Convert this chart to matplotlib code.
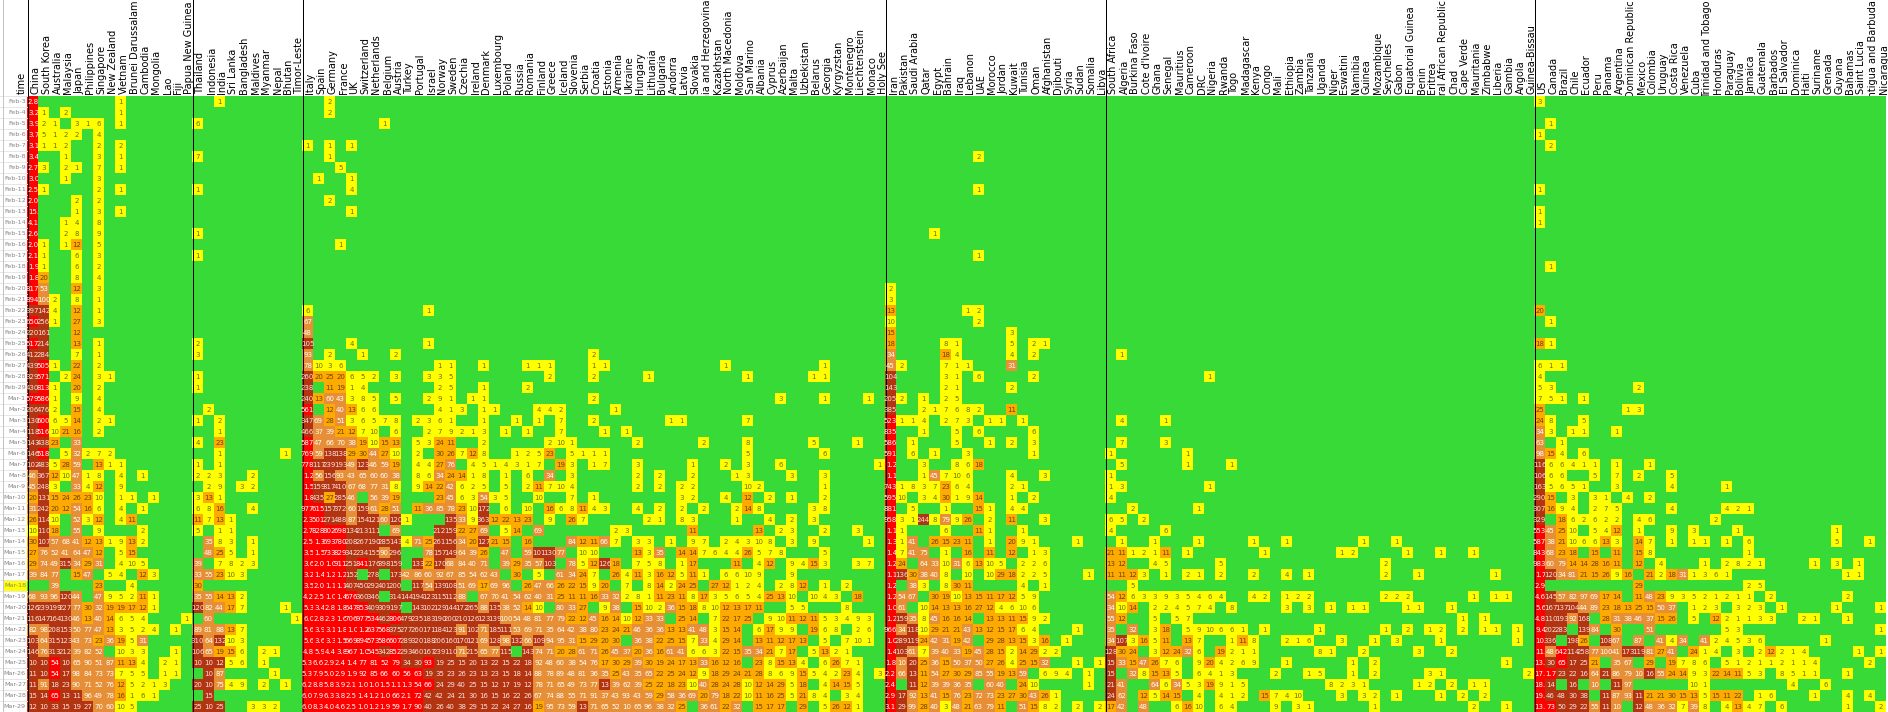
import matplotlib
matplotlib.use("Agg")
import matplotlib.pyplot as plt
from matplotlib.colors import ListedColormap
from matplotlib.patches import Rectangle
import numpy as np

dates = ["Feb-%d" % d for d in range(3, 30)] + ["Mar-%d" % d for d in range(1, 30)]

east_asia_names = ["China", "South Korea", "Australia", "Malaysia", "Japan", "Philippines", "Singapore",
                   "New Zealand", "Vietnam", "Brunei Darussalam", "Cambodia", "Mongolia", "Lao", "Fiji",
                   "Papua New Guinea"]
south_asia_names = ["Thailand", "Indonesia", "India", "Sri Lanka", "Bangladesh", "Maldives", "Myanmar", "Nepal",
                    "Bhutan", "Timor-Leste"]
europe_names = ["Italy", "Spain", "Germany", "France", "UK", "Switzerland", "Netherlands", "Belgium", "Austria",
                "Turkey", "Portugal", "Israel", "Norway", "Sweden", "Czechia", "Ireland", "Denmark", "Luxembourg",
                "Poland", "Russia", "Romania", "Finland", "Greece", "Iceland", "Slovenia", "Serbia", "Croatia",
                "Estonia", "Armenia", "Ukraine", "Hungary", "Lithuania", "Bulgaria", "Andorra", "Latvia", "Slovakia",
                "Bosnia and Herzegovina", "Kazakhstan", "North Macedonia", "Moldova", "San Marino", "Albania",
                "Cyprus", "Azerbaijan", "Malta", "Uzbekistan", "Belarus", "Georgia", "Kyrgyzstan", "Montenegro",
                "Liechtenstein", "Monaco", "Holy See"]
mideast_names = ["Iran", "Pakistan", "Saudi Arabia", "Qatar", "Egypt", "Bahrain", "Iraq", "Lebanon", "UAE", "Morocco",
                 "Jordan", "Kuwait", "Tunisia", "Oman", "Afghanistan", "Djibouti", "Syria", "Sudan", "Somalia",
                 "Libya"]
africa_names = ["South Africa", "Algeria", "Burkina Faso", "Cote d'Ivoire", "Ghana", "Senegal", "Mauritius",
                "Cameroon", "DRC", "Nigeria", "Rwanda", "Togo", "Madagascar", "Kenya", "Congo", "Mali", "Ethiopia",
                "Zambia", "Tanzania", "Uganda", "Niger", "Eswatini", "Namibia", "Guinea", "Mozambique", "Seychelles",
                "Gabon", "Equatorial Guinea", "Benin", "Eritrea", "Central African Republic", "Chad", "Cape Verde",
                "Mauritania", "Zimbabwe", "Liberia", "Gambia", "Angola", "Guinea-Bissau"]
americas_names = ["US", "Canada", "Brazil", "Chile", "Ecuador", "Peru", "Panama", "Argentina", "Dominican Republic",
                  "Mexico", "Colombia", "Uruguay", "Costa Rica", "Venezuela", "Cuba", "Trinidad and Tobago",
                  "Honduras", "Paraguay", "Bolivia", "Jamaica", "Guatemala", "Barbados", "El Salvador", "Dominica",
                  "Haiti", "Suriname", "Grenada", "Guyana", "Bahamas", "Saint Lucia", "Antigua and Barbuda",
                  "Nicaragua"]

# each row: "col:value value value" - a value without col goes in the next column
east_asia = {
    "Feb-3": "2800 8:1", "Feb-4": "3200 1 3:2 8:1", "Feb-5": "3900 2 1 4:3 1 6 8:1", "Feb-6": "3700 5 1 2 2 6:4",
    "Feb-7": "3100 1 1 2 6:2 8:2", "Feb-8": "3400 3:1 6:3 8:1", "Feb-9": "2700 3 3:2 1 6:7 8:1",
    "Feb-10": "3000 3:1 6:3", "Feb-11": "2500 1 6:2 8:1", "Feb-12": "2000 4:2 6:2", "Feb-13": "15200 4:1 6:3 8:1",
    "Feb-14": "4100 3:1 4 6:8", "Feb-15": "2600 3:2 8 6:9", "Feb-16": "2000 1 3:1 12 6:5", "Feb-17": "2100 1 4:6 6:3",
    "Feb-18": "1900 1 4:6 6:2", "Feb-19": "1800 20 4:8 6:4", "Feb-20": "817 53 4:12 6:3",
    "Feb-21": "894 100 2 4:8 6:1", "Feb-22": "397 142 4 4:12 6:1", "Feb-23": "650 256 1 4:27 6:3",
    "Feb-24": "220 161 4:12", "Feb-25": "517 214 4:13 6:1", "Feb-26": "412 284 4:7 6:1",
    "Feb-27": "439 505 1 4:22 6:2", "Feb-28": "329 571 3:2 24 6:3 1", "Feb-29": "430 813 1 4:20 6:2",
    "Mar-1": "579 586 1 4:9 6:4", "Mar-2": "206 476 2 4:15 6:4", "Mar-3": "130 600 6 5 14 6:2 1",
    "Mar-4": "118 516 10 21 16 6:2", "Mar-5": "143 438 23 4:33", "Mar-6": "146 518 3:5 32 2 7 2",
    "Mar-7": "102 483 5 28 59 6:13 1 1", "Mar-8": "46 367 12 10 47 1 8 8:4 10:1", "Mar-9": "45 248 3 4:33 4 12 8:9",
    "Mar-10": "20 131 15 24 26 23 10 8:1 1 11:1", "Mar-11": "31 242 20 12 54 16 6 8:4 10:1",
    "Mar-12": "26 114 10 4:52 3 12 8:4 11", "Mar-13": "10 110 18 4:55 6:9 10:2",
    "Mar-14": "30 107 57 68 41 12 13 1 9 13 2", "Mar-15": "27 76 52 41 64 47 12 8:5 15",
    "Mar-16": "29 74 49 315 34 29 31 8:4 10 5", "Mar-17": "39 84 77 4:15 47 7:5 4 10:12 3",
    "Mar-18": "2:39 6:23 9:4", "Mar-19": "68 93 96 120 44 6:47 9 5 2 11 1",
    "Mar-20": "126 239 199 227 77 30 32 19 19 17 12 1", "Mar-21": "116 147 164 130 46 13 40 14 6 5 4 14:1",
    "Mar-22": "82 98 208 153 50 77 47 13 3 5 2 4 13:1", "Mar-23": "103 64 315 123 43 73 23 36 19 5 31",
    "Mar-24": "146 76 313 212 39 82 52 8:10 3 3 13:1", "Mar-25": "101 102 540 104 65 90 51 87 11 13 4 12:2 1",
    "Mar-26": "110 103 545 170 98 84 73 73 7 5 5 12:1 1", "Mar-27": "115 91 180 230 90 71 52 76 12 5 2 1 3",
    "Mar-28": "150 140 650 130 110 96 49 78 16 1 6 1", "Mar-29": "120 105 330 150 190 270 70 60 10 5",
}
south_asia = {
    "Feb-3": "2:1", "Feb-5": "6", "Feb-8": "7", "Feb-11": "1", "Feb-15": "1", "Feb-17": "1", "Feb-25": "2",
    "Feb-26": "3", "Feb-28": "1", "Feb-29": "1", "Mar-2": "1:2", "Mar-3": "1 2:2", "Mar-4": "2:1", "Mar-5": "4 2:23",
    "Mar-6": "2:1 8:1", "Mar-7": "1 2:1", "Mar-8": "2 2 3 5:2", "Mar-9": "1:2 9 4:3 2", "Mar-10": "3 13 1",
    "Mar-11": "6 8 16 5:4", "Mar-12": "11 7 13 1", "Mar-13": "5 2:1 1", "Mar-14": "1:35 8 3 5:1",
    "Mar-15": "1:48 25 5 5:1", "Mar-16": "39 2:7 8 2 3", "Mar-17": "33 55 23 10 3", "Mar-18": "30",
    "Mar-19": "35 55 14 13 2", "Mar-20": "120 82 44 17 7 8:1", "Mar-21": "1:60 9:1", "Mar-22": "89 81 88 13 7",
    "Mar-23": "310 64 132 10 3", "Mar-24": "106 65 19 15 6 6:2 1", "Mar-25": "101 102 120 5 6 6:1",
    "Mar-26": "1:104 87 7:1", "Mar-27": "200 105 75 4 9 6:2 8:1", "Mar-28": "1:150",
    "Mar-29": "250 103 250 5:3 3 2",
}
europe = {
    "Feb-3": "2:2", "Feb-4": "2:2", "Feb-5": "7:1", "Feb-7": "1 2:1 4:1", "Feb-8": "2:1", "Feb-9": "3:5",
    "Feb-10": "1:1 4:1", "Feb-11": "4:4", "Feb-12": "2:2", "Feb-13": "4:1", "Feb-16": "3:1", "Feb-22": "6 11:1",
    "Feb-23": "67", "Feb-24": "48", "Feb-25": "105 4:4 11:1", "Feb-26": "93 2:2 5:1 8:2 26:2",
    "Feb-27": "78 10 3 6 12:1 1 16:1 20:1 1 1 26:1 1 38:1 47:1",
    "Feb-28": "260 20 25 20 6 5 2 8:3 11:3 3 5 22:2 26:2 31:1 40:1 46:1 1",
    "Feb-29": "238 2:11 19 1 4 12:2 5 16:1 20:2",
    "Mar-1": "240 13 60 43 3 8 5 8:5 11:2 9 1 15:1 1 26:2 43:3 47:1 51:1",
    "Mar-2": "561 2:12 40 13 6 6 12:4 1 3 16:1 1 21:4 4 2 28:1",
    "Mar-3": "347 69 28 51 3 6 5 7 8 10:2 3 6 1 16:1 19:1 21:1 23:7 26:2 33:1 1 40:7",
    "Mar-4": "466 37 39 21 12 7 10 8:6 11:2 7 9 2 1 3 18:1 20:1 23:7 27:1 29:1",
    "Mar-5": "587 47 66 70 38 19 10 15 13 10:5 3 24 11 16:2 22:2 10 1 30:2 36:2 40:8 46:5 50:1",
    "Mar-6": "769 59 138 138 29 30 44 27 10 10:2 12:30 26 7 12 8 19:1 2 5 23 24:5 1 1 1 40:5 47:6",
    "Mar-7": "778 117 239 193 49 123 46 59 19 10:4 4 27 76 15:4 5 1 4 3 1 7 23:19 3 26:1 7 30:3 35:1 38:2 40:3 43:6 52:1",
    "Mar-8": "1200 56 156 93 43 65 60 60 38 10:8 6 34 24 14 1 8 18:1 20:6 22:34 24:3 30:2 32:2 35:2 39:1 3 44:3 47:3",
    "Mar-9": "1500 159 317 410 67 68 77 31 8 10:9 14 22 42 6 2 5 18:5 20:2 11 7 10 4 30:2 32:2 34:2 2 40:10 2 47:1",
    "Mar-10": "1800 435 27 285 46 6:56 39 19 12:23 45 6 3 54 3 5 21:10 24:7 26:1 34:3 2 38:4 40:12 42:2 44:1 47:2",
    "Mar-11": "977 615 157 372 60 159 61 28 51 10:11 36 85 78 23 10 172 18:6 20:10 22:16 6 8 11 4 3 30:4 32:2 34:2 36:2 39:2 14 8 46:3 8",
    "Mar-12": "2300 501 271 488 87 154 121 60 120 1 13:135 33 9 363 12 22 13 23 22:9 24:26 7 31:2 1 34:8 3 39:1 42:4 44:2 46:3",
    "Mar-13": "2700 828 802 698 134 213 111 8:69 12:212 159 22 27 69 18:5 14 21:69 28:2 3 35:11 41:13 43:2 3 47:2 50:3",
    "Mar-14": "2500 1300 693 780 208 267 190 285 143 4 71 25 261 156 34 20 127 21 15 20:16 24:84 12 11 66 7 30:3 3 33:1 35:9 7 38:2 4 3 10 8 44:3 46:9 51:1",
    "Mar-15": "3500 1500 733 829 342 234 155 90 296 11:78 157 149 64 39 26 18:47 20:59 101 130 77 25:10 10 30:13 3 35 34:14 14 7 6 4 4 26 5 7 8 47:5",
    "Mar-16": "3600 2000 1000 911 251 841 176 398 159 10:133 22 170 68 84 40 71 18:39 29 35 57 103 24:78 5 12 126 18 30:7 5 8 34:1 17 39:11 41:4 12 44:9 4 15 3 50:3 7",
    "Mar-17": "3200 1400 1200 1200 152 6:278 8:173 42 86 60 92 67 85 54 62 43 19:30 21:5 23:61 34 24 7 28:26 4 11 3 16 12 5 11 1 38:6 6 10 9 44:9",
    "Mar-18": "3500 2000 1100 1100 407 450 292 401 200 10:117 54 139 108 51 69 17 69 96 20:26 47 66 26 22 15 9 20 29:7 31:8 14 2 24 25 37:27 12 1 2 4 43:2 8 12 47:1 49:2",
    "Mar-19": "4200 2500 1000 1400 676 360 346 8:314 144 194 123 115 112 88 16:67 70 41 54 62 40 31 25 11 11 16 33 32 2 8 1 11 23 11 8 17 3 5 6 5 4 25 13 10 46:10 4 3 50:18",
    "Mar-20": "5300 3400 2800 1800 647 853 409 309 197 10:143 102 129 144 172 265 88 135 38 52 14 10 23:80 33 27 27:9 38 30:15 10 2 36 15 18 8 10 12 13 17 11 44:5 5 49:8",
    "Mar-21": "6000 2800 2300 1600 706 977 534 462 806 479 235 183 190 200 210 126 123 139 100 54 48 81 77 79 22 12 45 16 14 10 12 33 33 34:25 14 37:7 22 17 25 42:9 10 11 12 11 5 3 4 9 3",
    "Mar-22": "5600 3900 3100 1800 1000 1200 637 568 375 277 260 171 184 123 91 102 71 185 111 53 69 71 35 64 42 38 80 23 24 21 46 36 36 13 13 41 48 3 15 14 41:6 17 9 9 46:19 6 8 50:2 6",
    "Mar-23": "5600 3600 3300 1500 669 894 573 586 607 289 320 188 206 160 170 121 69 128 98 132 66 109 94 95 31 15 29 20 30 30:36 38 22 25 15 7 33 4 29 14 41:13 11 12 17 13 47:5 49:7 10 1",
    "Mar-24": "4800 5900 4400 3800 967 1000 545 342 852 293 460 167 239 110 71 215 65 77 115 20:143 74 71 20 28 61 71 26 45 37 20 36 16 61 41 6 6 3 22 15 35 34 21 7 17 46:5 13 2 1",
    "Mar-25": "5300 6600 2900 2400 1400 770 810 520 790 340 300 930 190 250 150 200 130 220 150 220 180 92 48 60 38 54 76 17 30 29 39 30 19 24 17 13 33 16 12 16 41:23 8 15 13 4 47:6 26 7 1",
    "Mar-26": "5300 7900 5000 2900 1900 920 850 660 600 560 630 190 350 230 260 230 130 230 150 180 140 88 78 89 48 81 36 35 25 43 35 65 22 25 24 12 9 18 29 24 21 28 8 6 9 15 5 4 2 23 4 52:3",
    "Mar-27": "6200 8800 5800 3900 2100 1000 1000 1500 1100 1300 540 660 240 290 400 250 150 120 170 190 120 78 71 65 49 73 77 130 39 62 39 25 22 18 23 10 40 28 24 28 10 12 14 29 5 18 47:4 14 15 5",
    "Mar-28": "6000 7900 6300 3800 2500 1400 1200 1000 660 2100 720 420 420 240 210 300 160 150 160 220 260 67 74 88 55 71 91 37 43 93 43 59 29 58 36 69 20 79 18 22 10 11 16 25 5 21 8 4 49:3 4",
    "Mar-29": "6000 8300 4000 4600 2500 1000 1200 1900 590 1700 900 400 260 400 380 290 150 220 240 270 160 19 95 73 59 130 71 65 52 100 65 96 38 32 25 36:36 61 22 32 41:15 17 17 45:29 47:5 26 12 1",
}
mideast = {
    "Feb-8": "8:2", "Feb-11": "8:1", "Feb-15": "4:1", "Feb-17": "8:1", "Feb-20": "2", "Feb-21": "3",
    "Feb-22": "13 7:1 2", "Feb-23": "10 8:2", "Feb-24": "15 11:3", "Feb-25": "18 5:8 1 11:5 13:2 1",
    "Feb-26": "34 5:18 4 11:4 13:2", "Feb-27": "45 2 5:7 1 1 11:31", "Feb-28": "104 5:3 1 8:6 13:2",
    "Feb-29": "143 5:2 1 11:2", "Mar-1": "205 2 3:1 5:2 5", "Mar-2": "385 3:2 1 7 6 8 2 11:11",
    "Mar-3": "523 1 1 4 5:2 7 3 9:1 1 12:1", "Mar-4": "835 3:1 6:5 8:6 13:6", "Mar-5": "586 2:1 6:5 9:1 11:2 13:3",
    "Mar-6": "591 2:6 4:1 7:3 13:1", "Mar-7": "1200 3:3 6:8 6 18", "Mar-8": "1100 3:1 45 7 10 6 11:4 14:3",
    "Mar-9": "743 1 8 3 7 23 6 4 11:2 1", "Mar-10": "595 10 3:3 4 30 1 9 14 11:1 13:2", "Mar-11": "881 2:5 5:1 8:15 1 11:4 4",
    "Mar-12": "958 3 1 244 8 79 9 26 9:2 11:11 14:3", "Mar-13": "1100 1 5:6 8:11 1 12:1",
    "Mar-14": "1300 1 41 4:26 15 23 11 9:1 11:20 9 1 17:1", "Mar-15": "1400 7 41 75 5:1 7:16 9:11 11:12 13:1 3",
    "Mar-16": "1200 24 3:64 33 10 31 6 13 10 5 12:2 2 6", "Mar-17": "1100 136 30 38 40 8 7:10 9:10 29 18 2 2 5 18:1",
    "Mar-18": "1200 2:38 3 5:8 30 11 12:4 14:1", "Mar-19": "1200 54 67 4:30 19 10 13 15 11 17 12 5 9",
    "Mar-20": "1000 61 3:10 14 13 13 16 27 12 4 6 10 6", "Mar-21": "1200 159 35 8 45 16 16 14 9:13 13 11 15 9 2",
    "Mar-22": "966 34 118 10 29 21 21 43 13 12 15 17 6 4 17:1", "Mar-23": "1000 289 119 24 42 31 19 42 9:29 28 13 15 3 16 16:1",
    "Mar-24": "1400 103 61 7 39 40 33 19 45 28 15 2 14 29 2 2", "Mar-25": "1800 100 200 25 36 15 50 37 50 27 26 4 25 15 32 17:1 19:1",
    "Mar-26": "2200 66 130 11 54 27 30 29 85 55 19 13 59 14:6 9 4 18:1", "Mar-27": "2400 2:110 12 39 39 36 35 9:60 40 12:24 10 18:1",
    "Mar-28": "2900 170 92 13 41 15 76 23 72 73 23 27 30 43 26 1", "Mar-29": "3100 290 99 28 40 3 48 21 63 79 11 12:51 15 8 2 17:2 19:2",
}
africa = {
    "Feb-26": "1:1", "Feb-28": "9:1", "Mar-3": "1:4 5:1", "Mar-5": "1:7 5:3", "Mar-6": "1 7:1", "Mar-7": "1:5 7:1 11:1",
    "Mar-8": "1", "Mar-9": "1 3 9:1", "Mar-10": "4", "Mar-11": "2:2 8:1", "Mar-12": "6 5 3:2", "Mar-13": "4 5:6",
    "Mar-14": "1:1 4:1 8:1 13:1 16:1 23:1 26:1", "Mar-15": "21 11 1 2 1 11 7:1 14:1 21:1 2 27:1 30:1 33:1",
    "Mar-16": "13 12 4:4 5 10:5 25:2", "Mar-17": "11 11 12 3 5:1 7:2 1 10:2 13:2 16:4 18:1 25:2 28:1 35:1",
    "Mar-18": "2:5", "Mar-19": "54 12 6 3 3 9 3 5 4 6 4 13:4 2 16:1 2 2 25:2 2 2 33:1 35:1 1",
    "Mar-20": "34 10 14 4:2 2 4 5 7 4 11:8 16:3 18:3 20:1 22:1 1 27:1 1 31:1", "Mar-21": "55 12 4:5 6:5 7 32:1 34:1",
    "Mar-22": "35 2:32 4:3 18 7:5 9 10 6 6 1 14:1 19:1 25:1 27:2 29:1 2 32:2 34:1 1 37:1",
    "Mar-23": "34 107 3 16 5 11 7:13 7 11:1 11 8 16:2 1 6 21:3 24:1 26:3 30:1 37:1",
    "Mar-24": "128 30 24 4:3 12 24 32 6 10:19 2 1 1 19:8 1 23:2 28:3 31:2",
    "Mar-25": "150 33 15 47 26 7 6 8:9 20 4 2 6 9 16:1 22:1 24:2 36:1",
    "Mar-26": "152 2:32 8 15 13 5 8:6 4 1 3 15:2 18:1 5 22:1 24:2 29:3 1 38:2",
    "Mar-27": "210 41 4:64 6 34 5 3 19 9 1 5 20:8 2 3 1 28:1 2 31:2 33:1 1",
    "Mar-28": "240 62 3:12 5 14 15 8:4 10:4 1 2 14:15 7 4 10 21:3 23:3 2 26:1 30:1 32:2 34:2",
    "Mar-29": "17 42 3:48 6:6 16 10 10:6 4 15:9 17:3 1 24:1 33:2 36:1",
}
americas = {
    "Feb-3": "3", "Feb-5": "1:1", "Feb-6": "1", "Feb-7": "1:2", "Feb-11": "1", "Feb-13": "1", "Feb-14": "1",
    "Feb-18": "1:1", "Feb-22": "20", "Feb-23": "1:1", "Feb-25": "18 1", "Feb-27": "6 1 1", "Feb-28": "4",
    "Feb-29": "5 3 9:2", "Mar-1": "7 5 1 4:1", "Mar-2": "25 8:1 3", "Mar-3": "24 8 4:5", "Mar-4": "34 3 3:1 1 7:1",
    "Mar-5": "63 2:1", "Mar-6": "98 15 4 4:6", "Mar-7": "116 6 6 4 1 1 7:1 10:1", "Mar-8": "106 6 6 5:5 7:7 9:2 12:5",
    "Mar-9": "163 5 6 5 1 7:3 12:4 17:1", "Mar-10": "290 15 3:3 5:3 1 8:4 10:2",
    "Mar-11": "307 16 9 4 5:2 7 5 12:4 17:4 2 1", "Mar-12": "329 2:18 6 2 6 2 2 9:4 6 16:2",
    "Mar-13": "553 45 25 10 5:5 4 12 9:1 12:9 14:3 18:1 27:1",
    "Mar-14": "587 38 21 10 6 6 13 3 9:14 7 12:1 14:1 1 17:1 19:6 27:5 30:1",
    "Mar-15": "843 68 23 18 5:15 7:11 9:15 8 19:1",
    "Mar-16": "983 60 79 14 14 28 16 11 9:12 11:4 15:1 17:2 8 2 1 25:1 27:3 29:1",
    "Mar-17": "1700 120 34 81 21 15 26 9 16 10:21 2 18 31 1 3 6 1 28:1 1", "Mar-18": "2900 9:29 19:2 5",
    "Mar-19": "4600 145 57 82 97 69 17 14 9:11 48 23 9 3 5 2 1 2 1 1 21:2 28:2",
    "Mar-20": "5600 167 137 104 44 89 23 18 13 25 15 50 37 14:1 2 3 18:3 2 3 22:1 27:1 31:1",
    "Mar-21": "4800 110 193 92 168 6:28 31 38 46 37 15 26 14:5 16:12 2 1 1 3 3 24:2 1 28:1",
    "Mar-22": "9400 202 283 4:139 84 7:30 10:51 17:5 3 31:1", "Mar-23": "10200 336 3:198 26 6:108 67 9:87 11:41 4 34 15:41 2 4 5 3 6 26:1",
    "Mar-24": "11100 48 642 114 258 77 100 41 173 119 81 27 41 14:24 1 4 18:3 20:2 12 2 1 4 29:1 31:1",
    "Mar-25": "13000 300 650 170 250 21 7:35 67 10:29 12:19 7 8 6 17:5 1 2 1 1 2 1 1 4 30:2",
    "Mar-26": "17000 1700 230 220 160 64 210 86 79 100 160 55 24 14 9 3 22 14 11 5 3 22:8 5 1 1 28:1",
    "Mar-27": "18000 140 3:160 5:100 7:110 97 14:10 1 23:4 26:6",
    "Mar-28": "19000 460 480 300 380 6:110 87 93 110 21 21 30 15 13 5 15 11 22 20:1 6 25:1 28:4 30:4",
    "Mar-29": "13000 730 500 290 220 55 110 100 9:120 48 36 32 7 39 8 17:4 13 4 7 22:6 28:1 31:2",
}

groups = [(east_asia_names, east_asia), (south_asia_names, south_asia), (europe_names, europe),
          (mideast_names, mideast), (africa_names, africa), (americas_names, americas)]

LEFT = 27
TOP = 96
CELL = 11

names = []
values = []
group_starts = []
for group_names, rows in groups:
    group_starts.append(len(names))
    names += group_names
    block = np.zeros((len(dates), len(group_names)))
    for date, line in rows.items():
        col = 0
        for tok in line.split():
            if ":" in tok:
                col, tok = tok.split(":")
                col = int(col)
            block[dates.index(date), col] = float(tok)
            col += 1
    values.append(block)
values = np.hstack(values)


def cell_text(v, row):
    s = "%.1fK" % (v / 1000) if v >= 1000 else "%d" % v
    # from Mar-25 on the cells only show the start of the number
    if row >= dates.index("Mar-25"):
        s = s[:3] if "K" in s else s[:2]
    return s


fig = plt.figure(figsize=(18.88, 7.12), dpi=100)
ax = fig.add_axes([0, 0, 1, 1])
ax.set_xlim(0, 1888)
ax.set_ylim(712, 0)
ax.axis("off")

colors = ["#38DA38", "#FFFF00", "#FFAA00", "#E68F37", "#B23410", "#FF0000"]
text_colors = ["none", "#6e6e00", "#6b4400", "#ffffff", "#f7e2e2", "#ffffff"]
cats = np.digitize(values, [0.5, 10.5, 30.5, 100.5, 500.5])

x_edges = LEFT + CELL * np.arange(len(names) + 1)
y_edges = TOP + CELL * np.arange(len(dates) + 1)
ax.pcolormesh(x_edges, y_edges, cats, cmap=ListedColormap(colors), vmin=-0.5, vmax=5.5)

for r in range(len(dates)):
    for c in range(len(names)):
        if values[r, c] == 0:
            continue
        s = cell_text(values[r, c], r)
        cat = cats[r, c]
        if len(s) > 3:
            t = ax.text(x_edges[c] + 1, y_edges[r] + 5.7, s, fontsize=5, color=text_colors[cat],
                        ha="left", va="center", clip_on=True)
            t.set_clip_path(Rectangle((x_edges[c], y_edges[r]), CELL, CELL, transform=ax.transData))
        else:
            ax.text(x_edges[c] + 5.5, y_edges[r] + 5.7, s, fontsize=5, color=text_colors[cat],
                    ha="center", va="center")

# country names, long ones hang from the top and lose their start behind the grid
renderer = fig.canvas.get_renderer()
for c, name in enumerate(names):
    t = ax.text(x_edges[c] + 8.5, TOP - 1.5, name, rotation=90, fontsize=7, color="black", ha="center", va="bottom")
    h = t.get_window_extent(renderer).height
    if h > TOP - 1.5:
        t.set_y(h)
        t.set_clip_on(True)
        t.set_clip_path(Rectangle((x_edges[c] - 2, 0), CELL + 8, TOP, transform=ax.transData))
ax.text(22, TOP - 1.5, "time", rotation=90, fontsize=7, color="black", ha="center", va="bottom")

# date column
ax.add_patch(Rectangle((3, y_edges[dates.index("Mar-18")]), LEFT - 3, CELL, color="#FFFF00", lw=0))
for r, date in enumerate(dates):
    ax.plot([0, LEFT], [y_edges[r], y_edges[r]], color="#e6e6e6", lw=0.7)
    ax.text(26, y_edges[r] + 5.7, date, fontsize=4.6, color="#858585", ha="right", va="center")
ax.plot([2.5, 2.5], [0, 712], color="#c4c4c4", lw=0.72)

# black lines between the regions
for start in group_starts:
    ax.plot([x_edges[start] + 0.5] * 2, [0, 712], color="black", lw=0.72)

fig.savefig("out.png", dpi=100)
